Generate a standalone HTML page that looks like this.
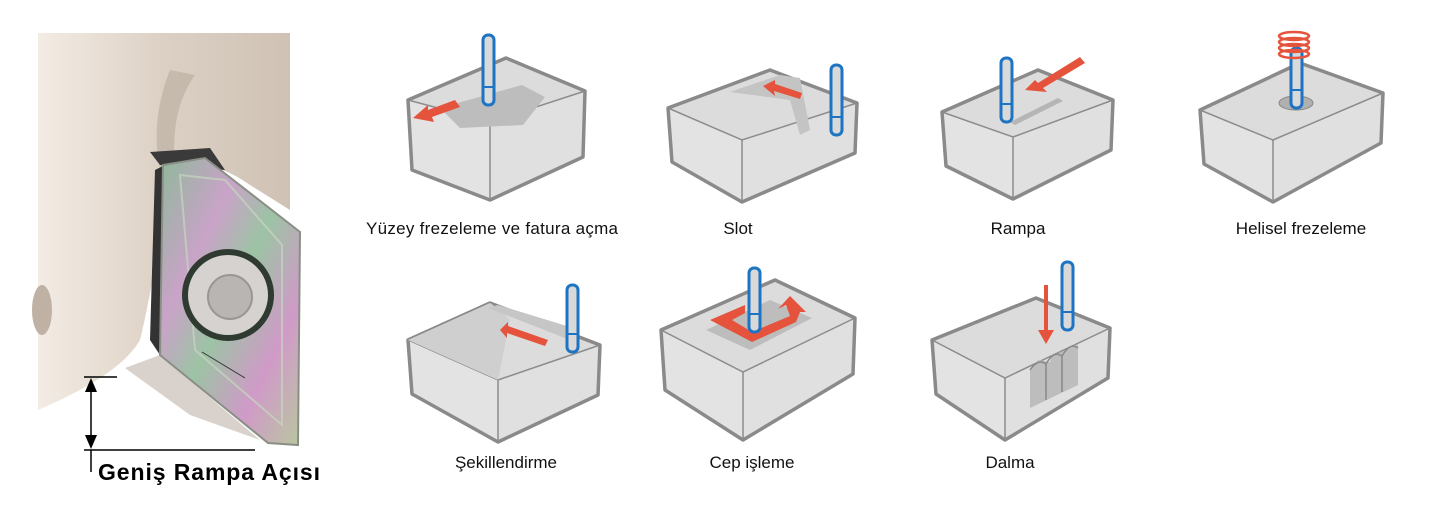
<!DOCTYPE html>
<html><head><meta charset="utf-8"><style>
body{margin:0;background:#fff;width:1441px;height:516px;overflow:hidden}
svg{display:block}
text{font-family:"Liberation Sans",sans-serif}
</style></head><body>
<svg id="s" width="1441" height="516" viewBox="0 0 1441 516" xmlns="http://www.w3.org/2000/svg">
<defs>
<linearGradient id="bg" x1="0" y1="0" x2="1" y2="0"><stop offset="0" stop-color="#f3ece4"/><stop offset="0.5" stop-color="#dcd0c4"/><stop offset="1" stop-color="#cfc2b5"/></linearGradient>
<linearGradient id="ir" x1="0" y1="0" x2="1" y2="1"><stop offset="0" stop-color="#8fb89a"/><stop offset="0.3" stop-color="#c9a3c8"/><stop offset="0.5" stop-color="#9cc3a4"/><stop offset="0.75" stop-color="#d09ac8"/><stop offset="1" stop-color="#b9c7a0"/></linearGradient>
</defs>
<path d="M38 33 H290 V210 L250 185 Q200 150 170 180 Q150 300 140 340 Q120 375 38 410 Z" fill="url(#bg)"/>
<path d="M170 70 Q150 120 160 170 L175 165 Q170 110 195 75 Z" fill="#b8ab9e" opacity="0.6"/>
<ellipse cx="42" cy="310" rx="10" ry="25" fill="#bfb2a5"/>
<path d="M150 152 L210 148 L225 170 L160 165 Z" fill="#3a3a3a"/>
<path d="M155 170 L165 165 L160 355 L150 340 Z" fill="#333"/>
<path d="M125 368 L160 355 L260 440 L190 415 Z" fill="#d9d2cc"/>
<polygon points="163,165 205,158 300,232 298,445 268,443 160,355" fill="url(#ir)" stroke="#8a8f86" stroke-width="2"/>
<polygon points="180,175 225,180 282,245 282,425 195,350" fill="none" stroke="#c7d5c0" stroke-width="2" opacity="0.7"/>
<circle cx="228" cy="295" r="46" fill="#2f3a30"/>
<circle cx="228" cy="295" r="40" fill="#d5d2cf"/>
<circle cx="230" cy="297" r="22" fill="#b9b5b2" stroke="#9a9693" stroke-width="2"/>
<line x1="202" y1="352" x2="245" y2="378" stroke="#333" stroke-width="1"/>
<g stroke="#000" stroke-width="1.5" fill="none">
<line x1="84" y1="377" x2="117" y2="377"/>
<line x1="84" y1="450" x2="255" y2="450"/>
<line x1="91" y1="385" x2="91" y2="442"/>
<line x1="91" y1="450" x2="91" y2="472"/>
</g>
<polygon points="91,378 85,392 97,392" fill="#000"/>
<polygon points="91,449 85,435 97,435" fill="#000"/>
<text x="98" y="480" font-size="23" font-weight="bold" textLength="222" fill="#000">Geniş Rampa Açısı</text>
<g id="boxes"></g>
<g font-size="17" fill="#111" text-anchor="middle">
<text x="492" y="234" textLength="252">Yüzey frezeleme ve fatura açma</text>
<text x="738" y="234">Slot</text>
<text x="1018" y="234">Rampa</text>
<text x="1301" y="234">Helisel frezeleme</text>
<text x="506" y="468">Şekillendirme</text>
<text x="752" y="468">Cep işleme</text>
<text x="1010" y="468">Dalma</text>
</g>
</svg>
<script>
var g=document.getElementById('boxes');var h='';
function box(L,B,R,F,H){
 var p=function(a){return a.join(' ')};
 h+='<polygon points="'+p([L,B,R,F])+'" fill="#dcdcdc"/>';
 h+='<polygon points="'+p([L,F,[F[0],F[1]+H],[L[0]+4,L[1]+H-8]])+'" fill="#e3e3e3"/>';
 h+='<polygon points="'+p([F,R,[R[0]-2,R[1]+H-12],[F[0],F[1]+H]])+'" fill="#e0e0e0"/>';
 h+='<polyline points="'+p([L,F,R])+'" fill="none" stroke="#8c8c8c" stroke-width="1.5"/>';
 h+='<line x1="'+F[0]+'" y1="'+F[1]+'" x2="'+F[0]+'" y2="'+(F[1]+H)+'" stroke="#8c8c8c" stroke-width="1.5"/>';
 h+='<polygon points="'+p([L,B,R,[R[0]-2,R[1]+H-12],[F[0],F[1]+H],[L[0]+4,L[1]+H-8]])+'" fill="none" stroke="#8a8a8a" stroke-width="3.5" stroke-linejoin="round"/>';
}
function tool(x,y1,y2){h+='<rect x="'+(x-5)+'" y="'+y1+'" width="11" height="'+(y2-y1)+'" rx="5" fill="#d9d9d9" stroke="#1d74c2" stroke-width="3"/><line x1="'+(x-5)+'" y1="'+(y2-18)+'" x2="'+(x+6)+'" y2="'+(y2-18)+'" stroke="#1d74c2" stroke-width="2"/>';}
function poly(pts,c){h+='<polygon points="'+pts+'" fill="'+(c||'#e5533d')+'"/>';}
box([408,100],[506,58],[585,91],[490,122],78);
poly('440,108 522,85 545,97 523,125 460,128','#bdbdbd');
tool(488,35,105);
poly('413,118 428,105 428,110 455,100 460,107 432,117 434,122');
box([668,108],[770,70],[857,103],[742,140],62);
poly('730,92 780,75 800,78 810,130 800,135 790,100','#c4c4c4');
poly('763,86 775,80 775,84 802,93 800,99 774,91 775,96');
tool(836,65,135);
box([942,112],[1038,70],[1113,100],[1013,137],62);
poly('1010,122 1058,98 1063,101 1015,125','#b5b5b5');
poly('1025,90 1035,80 1038,83 1080,57 1085,63 1043,88 1047,92');
tool(1006,58,122);
box([1200,110],[1300,63],[1383,93],[1273,140],62);
h+='<ellipse cx="1296" cy="103" rx="17" ry="7" fill="#b0b0b0" stroke="#888"/>';
tool(1296,48,108);
for(var i=0;i<4;i++)h+='<ellipse cx="1294" cy="'+(36+i*6)+'" rx="15" ry="4" fill="none" stroke="#e5533d" stroke-width="2.5"/>';
box([408,340],[490,303],[600,345],[498,380],62);
poly('408,340 490,303 500,310 510,320 498,380','#cfcfcf');
poly('488,308 498,305 580,330 570,340','#c6c6c6');
poly('500,330 508,322 508,326 548,340 545,346 507,333 507,338');
tool(572,285,352);
box([661,330],[775,280],[855,318],[743,372],68);
poly('706,330 770,300 812,318 750,350','#bdbdbd');
poly('710,320 745,305 745,313 732,320 752,332 790,316 786,305 778,309 790,296 806,312 800,312 796,322 752,342');
tool(754,268,332);
box([932,340],[1036,298],[1110,328],[1005,378],62);
poly('1030,370 1038,360 1050,362 1052,355 1062,352 1068,348 1078,344 1078,385 1030,408','#bdbdbd');
h+='<path d="M1030 370 Q1038 358 1046 364 V400 M1046 364 Q1054 350 1062 356 V392 M1062 356 Q1070 342 1078 348" fill="none" stroke="#888" stroke-width="1.5"/>';
poly('1044,285 1048,285 1048,330 1054,330 1046,344 1038,330 1044,330');
tool(1067,262,330);
g.innerHTML=h;
</script>
</body></html>
